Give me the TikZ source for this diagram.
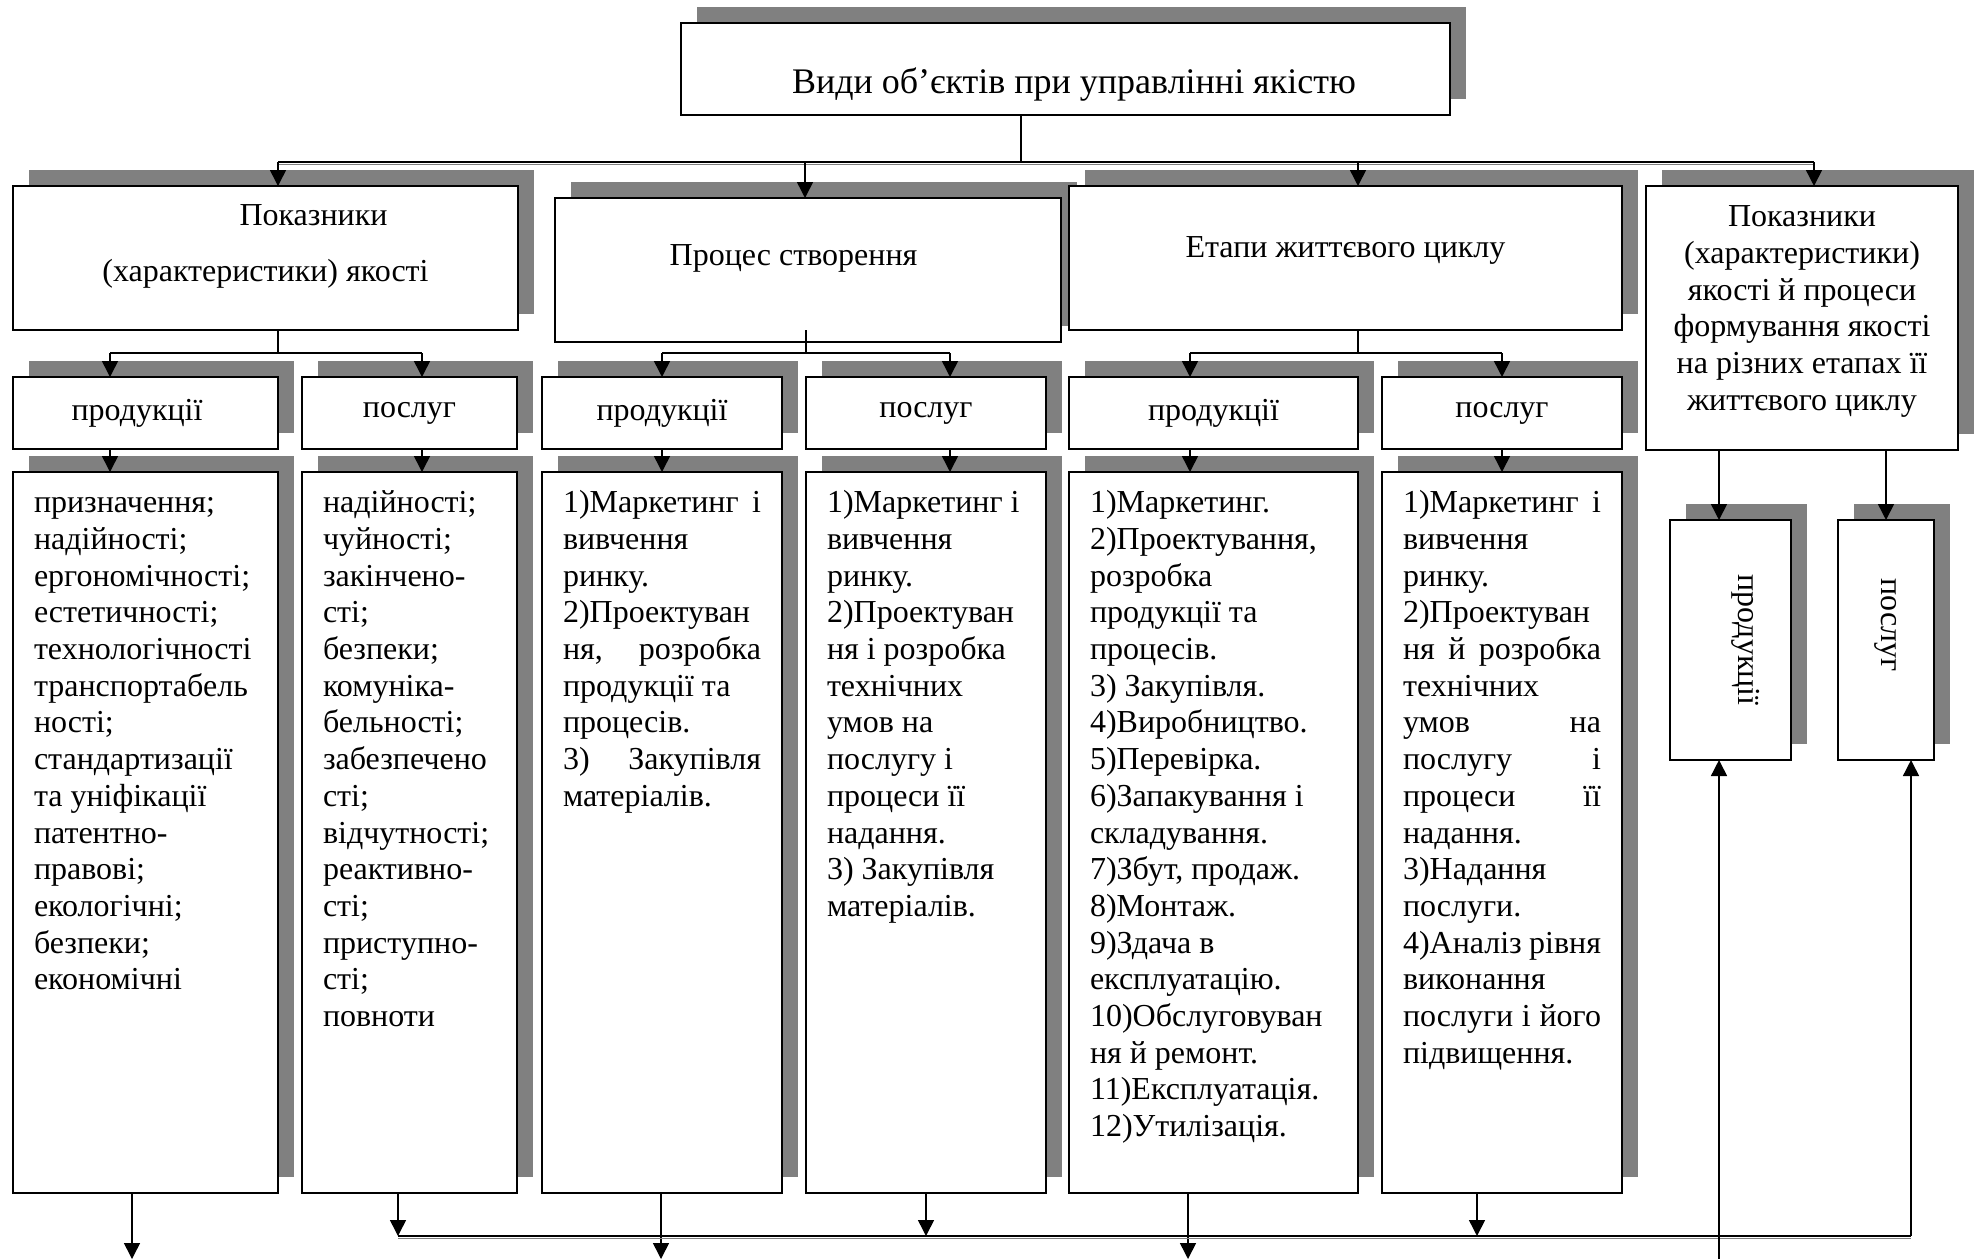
\documentclass[tikz,border=0pt]{standalone}
\usepackage{fontspec}
\setmainfont{Liberation Serif}
\usepackage{graphicx}
\usetikzlibrary{shadows, arrows.meta}
\definecolor{shadowgrey}{RGB}{128,128,128}
\newcommand{\listfont}{\fontsize{32}{36.7}\selectfont}
\newcommand{\just}[1]{\makebox[\linewidth][s]{#1}}
\tikzstyle{card} = [
    rectangle,
    draw=black,
    line width=2pt,
    fill=white,
    inner sep=0pt,
    outer sep=0pt,
    anchor=north west,
    drop shadow={shadow xshift=16pt, shadow yshift=16pt, fill=shadowgrey, opacity=1}
]
\tikzstyle{kind} = [
    card,
    minimum height=72pt,
    font=\listfont
]
\tikzstyle{listbox} = [
    card,
    inner xsep=21pt,
    inner ysep=0pt
]
\tikzstyle{link} = [line width=1.5pt]
\tikzstyle{buslink} = [
    link,
    preaction={draw=shadowgrey, line width=1.5pt, transform canvas={yshift=-2.5pt}}
]
\tikzstyle{arrow} = [line width=1.5pt, -{Triangle[length=16pt, width=16pt]}]

\begin{document}
\begin{tikzpicture}[x=1pt, y=-1pt]

\useasboundingbox (0,0) rectangle (1975,1259);

\node (title) [card] at (681,23)
{\parbox[c][92pt][t]{769pt}{\fontsize{36}{41.4}\selectfont\centering\vspace*{42pt}\strut\hspace*{17pt}Види об’єктів при управлінні якістю}};

\node (quality) [card] at (13,186)
{\parbox[c][144pt][t]{505pt}{\fontsize{32}{55.5}\selectfont\centering\vspace*{1pt}\strut\hspace*{96pt}Показники\\(характеристики) якості}};

\node (process) [card] at (555,198)
{\parbox[c][144pt][t]{506pt}{\listfont\centering\vspace*{42pt}\strut Процес створення\hspace*{29pt}}};

\node (stages) [card] at (1069,186)
{\parbox[c][144pt][t]{553pt}{\listfont\centering\vspace*{46pt}\strut Етапи життєвого циклу}};

\node (mixed) [card] at (1646,186)
{\parbox[c][264pt][t]{312pt}{\listfont\centering\vspace*{15pt}\strut Показники\\(характеристики)\\якості й процеси\\формування якості\\на різних етапах її\\життєвого циклу}};

\node (prodA) [kind, minimum width=265pt] at (13,377) {продукції\hspace*{17pt}};
\node (servA) [kind, minimum width=215pt] at (302,377) {послуг};
\node (prodB) [kind, minimum width=240pt] at (542,377) {продукції};
\node (servB) [kind, minimum width=240pt] at (806,377) {послуг};
\node (prodC) [kind, minimum width=289pt] at (1069,377) {продукції};
\node (servC) [kind, minimum width=240pt] at (1382,377) {послуг};

\node (listA1) [listbox] at (13,472)
{\parbox[c][721pt][t]{223pt}{\listfont\vspace*{15pt}\strut призначення;\\надійності;\\ергономічності;\\естетичності;\\технологічності\\транспортабель\\ності;\\стандартизації\\та уніфікації\\патентно-\\правові;\\екологічні;\\безпеки;\\економічні}};

\node (listA2) [listbox] at (302,472)
{\parbox[c][721pt][t]{173pt}{\listfont\vspace*{15pt}\strut надійності;\\чуйності;\\закінчено-\\сті;\\безпеки;\\комуніка-\\бельності;\\забезпечено\\сті;\\відчутності;\\реактивно-\\сті;\\приступно-\\сті;\\повноти}};

\node (listB1) [listbox] at (542,472)
{\parbox[c][721pt][t]{198pt}{\listfont\vspace*{15pt}\strut\just{1)Маркетинг і}\\вивчення\\ринку.\\2)Проектуван\\\just{ня, розробка}\\продукції та\\процесів.\\\just{3) Закупівля}\\матеріалів.}};

\node (listB2) [listbox] at (806,472)
{\parbox[c][721pt][t]{198pt}{\listfont\vspace*{15pt}\strut\mbox{1)Маркетинг і}\\вивчення\\ринку.\\2)Проектуван\\ня і розробка\\технічних\\умов на\\послугу і\\процеси її\\надання.\\3) Закупівля\\матеріалів.}};

\node (listC1) [listbox] at (1069,472)
{\parbox[c][721pt][t]{247pt}{\listfont\vspace*{15pt}\strut 1)Маркетинг.\\2)Проектування,\\розробка\\продукції та\\процесів.\\3) Закупівля.\\4)Виробництво.\\5)Перевірка.\\6)Запакування і\\складування.\\7)Збут, продаж.\\8)Монтаж.\\9)Здача в\\експлуатацію.\\10)Обслуговуван\\ня й ремонт.\\11)Експлуатація.\\12)Утилізація.}};

\node (listC2) [listbox] at (1382,472)
{\parbox[c][721pt][t]{198pt}{\listfont\vspace*{15pt}\strut\just{1)Маркетинг і}\\вивчення\\ринку.\\2)Проектуван\\\just{ня й розробка}\\технічних\\\just{умов на}\\\just{послугу і}\\\just{процеси її}\\надання.\\3)Надання\\послуги.\\\just{4)Аналіз рівня}\\виконання\\\just{послуги і його}\\підвищення.}};

\node (prodD) [card, minimum width=121pt, minimum height=240pt, font=\listfont] at (1670,520)
{\hspace*{30pt}\rotatebox{-90}{продукції}};

\node (servD) [card, minimum width=96pt, minimum height=240pt, font=\listfont] at (1838,520)
{\rotatebox{-90}{послуг\hspace*{30pt}}};

\coordinate (topbus) at (1021,162);
\coordinate (dropA) at (278,162);
\coordinate (dropB) at (805,162);
\coordinate (dropC) at (1358,162);
\coordinate (dropD) at (1814,162);

\coordinate (forkA) at (278,353);
\coordinate (forkA1) at (110,353);
\coordinate (forkA2) at (422,353);
\coordinate (forkB) at (806,353);
\coordinate (forkB1) at (662,353);
\coordinate (forkB2) at (950,353);
\coordinate (forkC) at (1358,353);
\coordinate (forkC1) at (1190,353);
\coordinate (forkC2) at (1502,353);

\coordinate (downD1) at (1719,450);
\coordinate (downD2) at (1886,450);

\coordinate (outA) at (132,1259);
\coordinate (outB) at (661,1259);
\coordinate (outC) at (1188,1259);
\coordinate (outD) at (1719,1259);
\coordinate (busA) at (398,1236);
\coordinate (busB) at (926,1236);
\coordinate (busC) at (1477,1236);
\coordinate (busEnd) at (1911,1236);

\draw [link] (topbus |- title.south) -- (topbus);
\draw [buslink] (dropA) -- (dropD);
\draw [arrow] (dropA) -- (dropA |- quality.north);
\draw [arrow] (dropB) -- (dropB |- process.north);
\draw [arrow] (dropC) -- (dropC |- stages.north);
\draw [arrow] (dropD) -- (dropD |- mixed.north);

\draw [link] (forkA |- quality.south) -- (forkA);
\draw [link] (forkA1) -- (forkA2);
\draw [arrow] (forkA1) -- (forkA1 |- prodA.north);
\draw [arrow] (forkA2) -- (forkA2 |- servA.north);

\draw [link] ([yshift=12pt]forkB |- process.south) -- (forkB);
\draw [link] (forkB1) -- (forkB2);
\draw [arrow] (forkB1) -- (forkB1 |- prodB.north);
\draw [arrow] (forkB2) -- (forkB2 |- servB.north);

\draw [link] (forkC |- stages.south) -- (forkC);
\draw [link] (forkC1) -- (forkC2);
\draw [arrow] (forkC1) -- (forkC1 |- prodC.north);
\draw [arrow] (forkC2) -- (forkC2 |- servC.north);

\draw [arrow] (forkA1 |- prodA.south) -- (forkA1 |- listA1.north);
\draw [arrow] (forkA2 |- servA.south) -- (forkA2 |- listA2.north);
\draw [arrow] (forkB1 |- prodB.south) -- (forkB1 |- listB1.north);
\draw [arrow] (forkB2 |- servB.south) -- (forkB2 |- listB2.north);
\draw [arrow] (forkC1 |- prodC.south) -- (forkC1 |- listC1.north);
\draw [arrow] (forkC2 |- servC.south) -- (forkC2 |- listC2.north);

\draw [arrow] (downD1) -- (downD1 |- prodD.north);
\draw [arrow] (downD2) -- (downD2 |- servD.north);

\draw [arrow] (outA |- listA1.south) -- (outA);
\draw [arrow] (busA |- listA2.south) -- (busA);
\draw [arrow] (outB |- listB1.south) -- (outB);
\draw [arrow] (busB |- listB2.south) -- (busB);
\draw [arrow] (outC |- listC1.south) -- (outC);
\draw [arrow] (busC |- listC2.south) -- (busC);
\draw [buslink] (busA) -- (busEnd);
\draw [arrow] (busEnd) -- (busEnd |- servD.south);
\draw [arrow] (outD) -- (outD |- prodD.south);

\end{tikzpicture}
\end{document}
